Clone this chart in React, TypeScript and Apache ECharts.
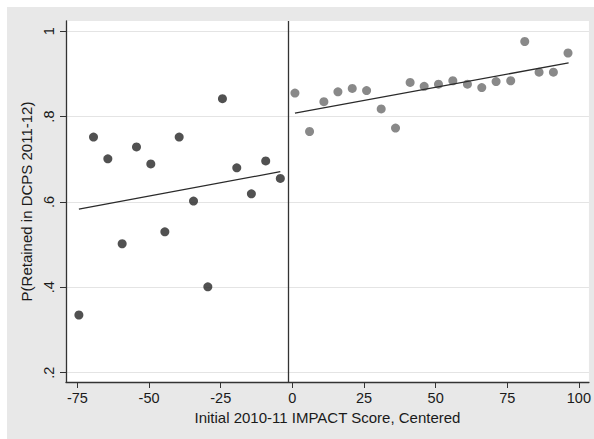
import React, { useEffect, useRef } from "react";
import * as echarts from "echarts";

// Binned retention rates, below the cutoff (dark) and above it (grey)
const lowX = [-74.5, -69.4, -64.4, -59.4, -54.4, -49.4, -44.5, -39.5, -34.5, -29.5, -24.4, -19.4, -14.3, -9.3, -4.2];
const lowY = [0.335, 0.752, 0.701, 0.502, 0.729, 0.689, 0.530, 0.752, 0.602, 0.401, 0.842, 0.680, 0.619, 0.696, 0.655];

const highX = [0.9, 6.0, 11.0, 15.9, 20.9, 25.9, 31.0, 36.0, 41.1, 46.0, 51.0, 56.0, 61.1, 66.1, 71.1, 76.2, 81.1, 86.1, 91.1, 96.2];
const highY = [0.855, 0.765, 0.835, 0.858, 0.866, 0.861, 0.818, 0.773, 0.880, 0.871, 0.876, 0.884, 0.876, 0.868, 0.882, 0.884, 0.976, 0.904, 0.904, 0.949];

// Linear fits on each side: [x, fitted value] at both ends
const lowFit = [[-74.5, 0.583], [-4.2, 0.671]];
const highFit = [[0.9, 0.808], [96.4, 0.926]];

const cutoff = -1.5;

const xTicks = [-75, -50, -25, 0, 25, 50, 75, 100];
const yTicks = [0.2, 0.4, 0.6, 0.8, 1];

const FONT = "'Liberation Sans', Arial, Helvetica, sans-serif";
const TEXT = "#1a1a1a";

export default function App() {
  const ref = useRef<HTMLDivElement>(null);

  useEffect(() => {
    if (!ref.current) return;
    const chart = echarts.init(ref.current, undefined, { renderer: "svg" });
    const zip = (xs: number[], ys: number[]) => xs.map((x, i) => [x, ys[i]]);

    chart.setOption({
      animation: false,
      backgroundColor: "#e8e8e8",
      graphic: [
        { type: "rect", left: 0, top: 0, shape: { width: 594, height: 7 }, style: { fill: "#fff" } },
        { type: "rect", left: 0, top: 0, shape: { width: 7, height: 439 }, style: { fill: "#fff" } },
      ],
      grid: {
        left: 66,
        top: 21,
        right: 4,
        bottom: 57,
        show: true,
        backgroundColor: "#ffffff",
        borderWidth: 0,
      },
      xAxis: {
        type: "value",
        min: -79,
        max: 103.5,
        name: "Initial 2010-11 IMPACT Score, Centered",
        nameLocation: "middle",
        nameGap: 24,
        nameTextStyle: { fontFamily: FONT, fontSize: 15, color: TEXT },
        axisLine: { show: true, onZero: false, lineStyle: { color: "#333", width: 1.3 } },
        axisTick: { show: true, length: 6, customValues: xTicks, lineStyle: { color: "#333", width: 1 } },
        axisLabel: {
          customValues: xTicks,
          margin: 8.5,
          fontFamily: FONT,
          fontSize: 14.5,
          color: TEXT,
        },
        splitLine: { show: false },
      },
      yAxis: {
        type: "value",
        min: 0.178,
        max: 1.024,
        name: "P(Retained in DCPS 2011-12)",
        nameLocation: "middle",
        nameGap: 27,
        nameTextStyle: { fontFamily: FONT, fontSize: 15, color: TEXT },
        axisLine: { show: true, onZero: false, lineStyle: { color: "#333", width: 1.3 } },
        axisTick: { show: true, length: 6, customValues: yTicks, lineStyle: { color: "#333", width: 1 } },
        axisLabel: {
          customValues: yTicks,
          rotate: 90,
          margin: 9.5,
          fontFamily: FONT,
          fontSize: 14.5,
          color: TEXT,
          formatter: (v: number) => (v >= 1 ? "1" : String(Number(v.toFixed(1))).replace(/^0/, "")),
        },
        splitLine: { show: true, lineStyle: { color: "#e4e4e4", width: 1.2 } },
      },
      series: [
        {
          type: "scatter",
          data: zip(lowX, lowY),
          symbolSize: 9,
          itemStyle: { color: "#262626" },
          markLine: {
            silent: true,
            symbol: "none",
            label: { show: false },
            lineStyle: { color: "#333", width: 1.3, type: "solid" },
            data: [{ xAxis: cutoff }],
          },
        },
        {
          type: "scatter",
          data: zip(highX, highY),
          symbolSize: 9,
          itemStyle: { color: "#6b6b6b" },
        },
        {
          type: "line",
          data: lowFit,
          symbol: "none",
          lineStyle: { color: "#2a2a2a", width: 1.3 },
        },
        {
          type: "line",
          data: highFit,
          symbol: "none",
          lineStyle: { color: "#2a2a2a", width: 1.3 },
        },
      ],
    });

    return () => chart.dispose();
  }, []);

  return (
    <div
      ref={ref}
      style={{ position: "fixed", left: 0, top: 0, width: 594, height: 439 }}
    />
  );
}
